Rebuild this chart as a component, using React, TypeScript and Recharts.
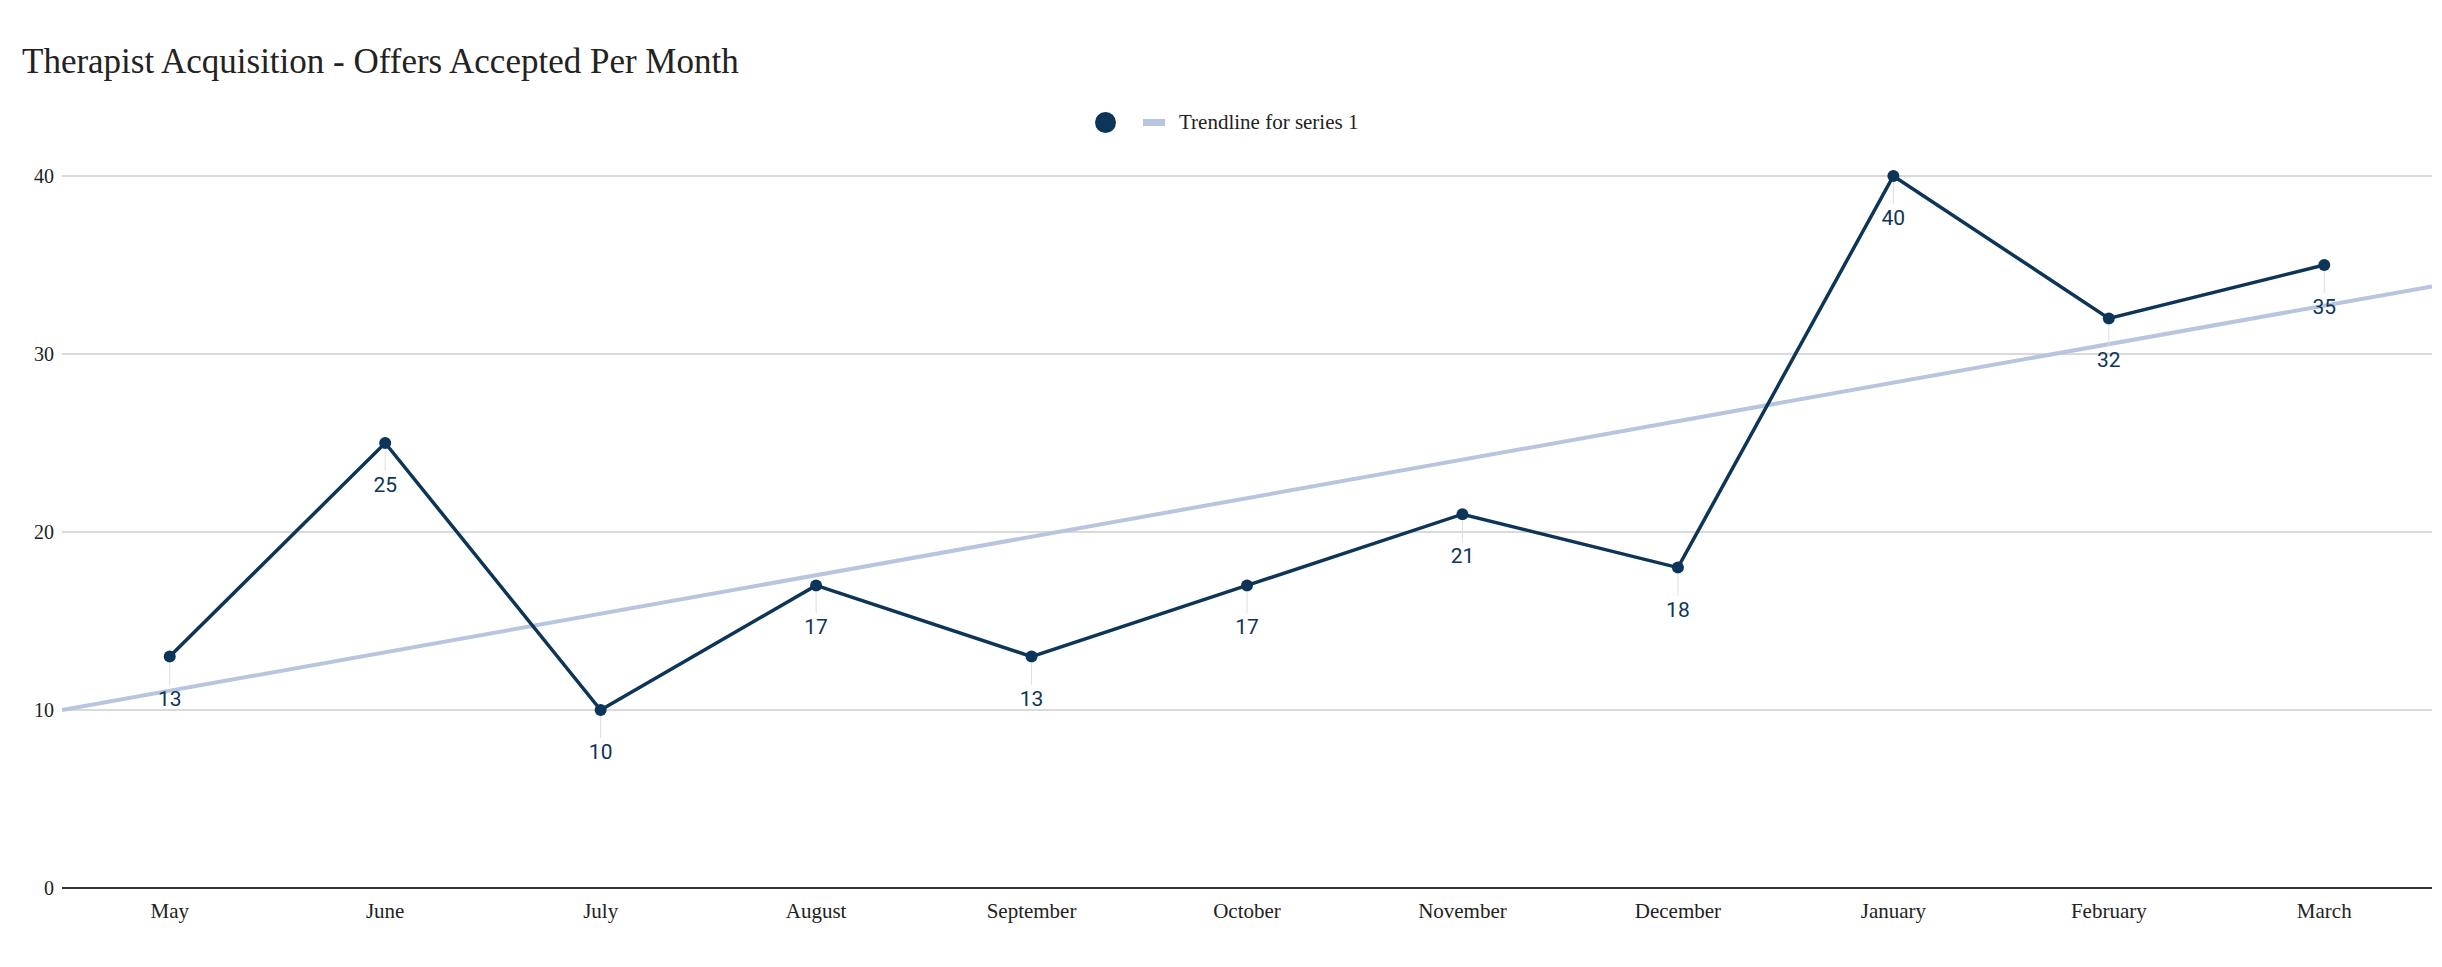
import React from 'react';
import { LineChart, Line, XAxis, YAxis, CartesianGrid, LabelList } from 'recharts';

const months = ['May', 'June', 'July', 'August', 'September', 'October', 'November', 'December', 'January', 'February', 'March'];
const offersAccepted = [13, 25, 10, 17, 13, 17, 21, 18, 40, 32, 35];
const yTicks = [0, 10, 20, 30, 40];
// trendline ends (left and right edge of the plot)
const trendX = [-0.5, 10.5];
const trendY = [10, 33.8];

const NAVY = '#0d3558';
const TREND = '#b8c5de';
const SERIF = '"Liberation Serif", "Times New Roman", serif';

const data = offersAccepted.map((v, i) => ({ idx: i, value: v }));
const trendData = trendX.map((x, i) => ({ idx: x, trend: trendY[i] }));

const PointLabel = (props: any) => {
    const { x, y, value } = props;
    return (
        <g>
            <line x1={x} y1={y + 6} x2={x} y2={y + 28} stroke="#dddddd" strokeWidth={1} />
            <text x={x} y={y + 42} textAnchor="middle" dominantBaseline="central"
                fontFamily="Roboto, sans-serif" fontSize={21} fill={NAVY}>
                {value}
            </text>
        </g>
    );
};

const App: React.FC = () => {
    return (
        <div style={{ position: 'absolute', left: 0, top: 0, width: 2442, height: 967, background: '#fff' }}>
            <div style={{ position: 'absolute', left: 22, top: 44, fontFamily: SERIF, fontSize: 35, lineHeight: '35px', color: '#222', whiteSpace: 'nowrap' }}>
                Therapist Acquisition - Offers Accepted Per Month
            </div>
            <div style={{ position: 'absolute', left: 1095, top: 108, height: 28, display: 'flex', alignItems: 'center', fontFamily: SERIF, fontSize: 21, color: '#222', whiteSpace: 'nowrap' }}>
                <span style={{ width: 21, height: 21, borderRadius: '50%', background: NAVY, display: 'inline-block' }} />
                <span style={{ width: 22, height: 7, background: TREND, display: 'inline-block', marginLeft: 27 }} />
                <span style={{ marginLeft: 14 }}>Trendline for series 1</span>
            </div>
            <LineChart width={2442} height={967} data={data} margin={{ top: 176, right: 10, bottom: 39, left: 0 }}>
                <CartesianGrid vertical={false} stroke="#cccccc" strokeWidth={1.5} />
                <XAxis dataKey="idx" type="number" domain={[-0.5, 10.5]} ticks={months.map((_, i) => i)}
                    tickFormatter={(i: number) => months[i]} allowDataOverflow height={40}
                    tickLine={false} axisLine={{ stroke: '#333', strokeWidth: 2 }} tickMargin={9}
                    tick={{ fontFamily: SERIF, fontSize: 21, fill: '#222' }} interval={0} />
                <YAxis domain={[0, 40]} ticks={yTicks} width={62} tickLine={false} axisLine={false}
                    tick={{ fontFamily: SERIF, fontSize: 20, fill: '#222' }} />
                <Line data={trendData} dataKey="trend" type="linear" stroke={TREND} strokeWidth={4}
                    dot={false} activeDot={false} isAnimationActive={false} />
                <Line dataKey="value" type="linear" stroke={NAVY} strokeWidth={3.5}
                    dot={{ r: 6, fill: NAVY, stroke: NAVY, strokeWidth: 0 }} activeDot={false} isAnimationActive={false}>
                    <LabelList dataKey="value" content={PointLabel} />
                </Line>
            </LineChart>
        </div>
    );
};

export default App;
